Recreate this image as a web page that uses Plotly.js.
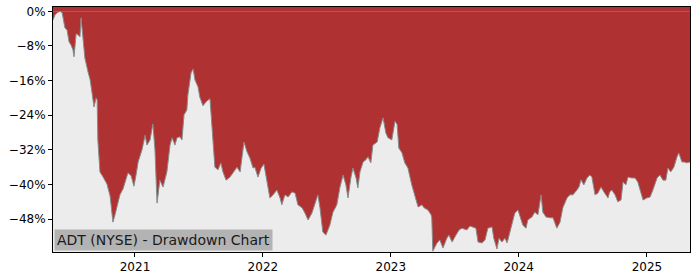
<!DOCTYPE html>
<html>
<head>
<meta charset="utf-8">
<script src="https://cdn.plot.ly/plotly-3.0.1.min.js"></script>
<style>html,body{margin:0;padding:0;background:#fff;}#chart{width:700px;height:280px;}</style>
</head>
<body>
<div id="chart"></div>
<script>
const dates = [
"2020-05-12","2020-05-18","2020-05-24","2020-06-01","2020-06-07","2020-06-10","2020-06-15","2020-06-21","2020-06-27","2020-07-02",
"2020-07-08","2020-07-11","2020-07-17","2020-07-22","2020-07-28","2020-07-31","2020-08-06","2020-08-11","2020-08-20","2020-08-26",
"2020-08-31","2020-09-06","2020-09-12","2020-09-15","2020-09-17","2020-09-23","2020-10-02","2020-10-13","2020-10-22","2020-10-30",
"2020-11-05","2020-11-11","2020-11-19","2020-11-28","2020-12-03","2020-12-12","2020-12-21","2020-12-29","2021-01-04","2021-01-10",
"2021-01-21","2021-01-30","2021-02-04","2021-02-13","2021-02-21","2021-02-27","2021-03-05","2021-03-13","2021-03-22","2021-04-02",
"2021-04-11","2021-04-17","2021-04-25","2021-05-01","2021-05-09","2021-05-15","2021-05-21","2021-05-29","2021-06-01","2021-06-10",
"2021-06-16","2021-06-21","2021-06-30","2021-07-05","2021-07-14","2021-07-25","2021-08-03","2021-08-09","2021-08-17","2021-08-26",
"2021-09-03","2021-09-09","2021-09-18","2021-09-29","2021-10-10","2021-10-19","2021-10-28","2021-11-02","2021-11-08","2021-11-17",
"2021-11-25","2021-12-04","2021-12-09","2021-12-18","2021-12-27","2022-01-04","2022-01-13","2022-01-21","2022-01-30","2022-02-10",
"2022-02-19","2022-02-24","2022-03-05","2022-03-14","2022-03-25","2022-04-03","2022-04-11","2022-04-23","2022-05-01","2022-05-10",
"2022-05-21","2022-05-30","2022-06-07","2022-06-13","2022-06-21","2022-06-30","2022-07-11","2022-07-20","2022-07-31","2022-08-09",
"2022-08-18","2022-08-26","2022-09-01","2022-09-09","2022-09-15","2022-09-24","2022-09-29","2022-10-05","2022-10-14","2022-10-22",
"2022-10-28","2022-11-05","2022-11-11","2022-11-23","2022-12-01","2022-12-10","2022-12-18","2022-12-24","2023-01-04","2023-01-13",
"2023-01-19","2023-01-24","2023-02-02","2023-02-10","2023-02-19","2023-03-02","2023-03-11","2023-03-20","2023-03-31","2023-04-06",
"2023-04-17","2023-04-26","2023-04-28","2023-05-01","2023-05-13","2023-05-21","2023-05-30","2023-06-10","2023-06-16","2023-06-25",
"2023-07-06","2023-07-15","2023-07-23","2023-08-06","2023-08-15","2023-08-23","2023-09-01","2023-09-07","2023-09-18","2023-09-27",
"2023-10-05","2023-10-17","2023-10-22","2023-10-31","2023-11-06","2023-11-14","2023-11-23","2023-11-29","2023-12-07","2023-12-16",
"2023-12-21","2023-12-30","2024-01-07","2024-01-13","2024-01-22","2024-01-27","2024-02-08","2024-02-16","2024-02-25","2024-03-05",
"2024-03-10","2024-03-19","2024-03-30","2024-04-08","2024-04-19","2024-04-28","2024-05-06","2024-05-18","2024-05-26","2024-06-04",
"2024-06-15","2024-06-21","2024-06-27","2024-07-05","2024-07-14","2024-07-22","2024-07-28","2024-08-06","2024-08-14","2024-08-23",
"2024-08-31","2024-09-12","2024-09-17","2024-09-23","2024-10-02","2024-10-10","2024-10-19","2024-10-25","2024-11-02","2024-11-08",
"2024-11-19","2024-11-28","2024-12-06","2024-12-15","2024-12-21","2025-01-01","2025-01-10","2025-01-18","2025-01-30","2025-02-07",
"2025-02-16","2025-02-24","2025-03-02","2025-03-10","2025-03-19","2025-03-28","2025-04-02","2025-04-11","2025-04-17","2025-04-25",
"2025-05-04"
];
const drawdown = [
-2.0,-0.8,-0.3,0.0,-0.3,-2.0,-3.8,-4.3,-7.1,-7.7,
-8.9,-10.5,-5.2,-5.4,-5.9,-1.5,-7.7,-10.8,-14.0,-15.8,
-18.6,-22.1,-20.0,-20.5,-29.7,-37.1,-38.3,-39.9,-42.7,-48.7,
-47.0,-44.7,-42.4,-41.0,-39.7,-37.3,-38.0,-40.4,-37.8,-34.8,
-32.0,-28.6,-30.9,-29.7,-26.0,-32.0,-44.3,-39.0,-40.6,-37.1,
-30.9,-29.2,-30.9,-29.2,-29.0,-29.7,-23.9,-22.8,-19.3,-14.2,
-13.3,-15.8,-17.5,-19.8,-21.8,-20.7,-20.2,-27.4,-36.0,-36.6,
-35.0,-37.1,-39.0,-38.3,-37.1,-36.0,-37.1,-33.2,-30.2,-32.5,
-33.9,-36.2,-36.0,-38.3,-36.2,-35.3,-39.4,-43.1,-42.4,-41.3,
-43.1,-44.7,-42.4,-42.9,-41.7,-42.0,-44.7,-45.4,-46.6,-48.2,
-46.6,-44.3,-42.4,-45.4,-51.0,-51.7,-49.4,-46.4,-44.7,-40.6,
-37.8,-40.1,-43.1,-38.5,-36.2,-38.5,-40.8,-37.1,-34.8,-34.3,
-33.6,-35.0,-30.9,-30.2,-26.9,-24.6,-28.1,-29.2,-29.7,-25.4,
-26.1,-31.6,-32.7,-35.0,-36.2,-40.1,-42.4,-45.2,-44.7,-45.4,
-45.9,-47.0,-47.7,-55.4,-53.5,-52.8,-54.7,-52.4,-51.7,-53.3,
-51.7,-50.5,-50.1,-50.5,-49.6,-49.8,-50.1,-53.3,-53.5,-52.8,
-50.1,-49.8,-52.4,-54.9,-52.4,-53.3,-52.4,-53.5,-51.0,-47.7,
-46.6,-45.9,-47.7,-49.4,-50.1,-48.2,-47.5,-46.4,-47.0,-42.4,
-46.4,-47.5,-47.7,-47.7,-50.1,-48.7,-45.4,-43.1,-42.4,-42.4,
-41.3,-40.6,-38.9,-40.1,-38.5,-37.8,-38.3,-42.4,-42.0,-40.6,
-41.7,-43.1,-41.7,-41.3,-42.4,-44.0,-43.6,-39.4,-40.1,-38.3,
-38.5,-38.5,-39.4,-41.7,-43.6,-43.1,-42.9,-41.3,-38.5,-37.8,
-39.0,-39.0,-36.2,-37.1,-36.0,-33.6,-32.7,-34.8,-34.8,-35.0,
-34.8
];
const yTickVals = [0,-8,-16,-24,-32,-40,-48];
const yTickText = ["0%","\u22128%","\u221216%","\u221224%","\u221232%","\u221240%","\u221248%"];
const xTickVals = ["2021-01-01","2022-01-01","2023-01-01","2024-01-01","2025-01-01"];
const xTickText = ["2021","2022","2023","2024","2025"];
const chartLabel = "ADT (NYSE) - Drawdown Chart";

const RED = "#b03131";
const yRange = [-55.6, 1.0];

const trace = {
  x: dates, y: drawdown, type: "scatter", mode: "lines",
  fill: "tozeroy", fillcolor: RED,
  line: {color: "#8a8a8a", width: 1},
  hoverinfo: "skip"
};
const layout = {
  width: 700, height: 280,
  margin: {l: 53, r: 10, t: 7, b: 28},
  paper_bgcolor: "#ffffff",
  plot_bgcolor: "#ececec",
  showlegend: false,
  font: {family: "DejaVu Sans", size: 12, color: "#000"},
  xaxis: {
    type: "date", range: [dates[0], dates[dates.length-1]],
    tickvals: xTickVals, ticktext: xTickText,
    ticks: "outside", ticklen: 4, tickwidth: 1, tickcolor: "#000",
    showgrid: false, zeroline: false,
    showline: true, linecolor: "#000", linewidth: 1, mirror: true,
    tickfont: {family: "DejaVu Sans", size: 12, color: "#000"}
  },
  yaxis: {
    range: yRange,
    tickvals: yTickVals, ticktext: yTickText,
    ticks: "outside", ticklen: 4, tickwidth: 1, tickcolor: "#000",
    showgrid: false, zeroline: false,
    showline: true, linecolor: "#000", linewidth: 1, mirror: true,
    tickfont: {family: "DejaVu Sans", size: 12, color: "#000"}
  },
  shapes: [{
    type: "rect", layer: "below", xref: "paper", yref: "y",
    x0: 0, x1: 1, y0: 0, y1: yRange[1],
    fillcolor: RED, line: {width: 0}
  }],
  annotations: [{
    text: chartLabel, xref: "paper", yref: "paper", x: 0, y: 0,
    xanchor: "left", yanchor: "bottom", showarrow: false,
    bgcolor: "#b3b3b3", borderpad: 2, xshift: 1, yshift: 1,
    font: {family: "DejaVu Sans", size: 14, color: "#1a1a1a"}
  }]
};
Plotly.newPlot("chart", [trace], layout, {staticPlot: true, displayModeBar: false});
</script>
</body>
</html>
